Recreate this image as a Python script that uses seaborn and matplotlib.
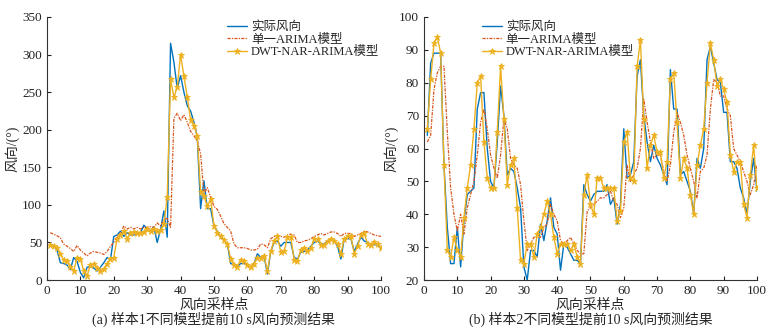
"""Wind direction forecasts, 10 s ahead: two samples, three models."""
import numpy as np
import matplotlib
matplotlib.use("Agg")
import matplotlib.pyplot as plt
import seaborn as sns

x = np.arange(1, 101)

# sample 1
actual_a = [47, 45, 40, 23, 22, 20, 14, 30, 25, 10, 3, 17, 18, 16, 12, 17, 23, 30, 27, 58,
            60, 65, 58, 63, 60, 60, 61, 63, 73, 68, 65, 71, 50, 67, 92, 57, 315, 290, 255, 272,
            250, 232, 225, 210, 190, 95, 132, 95, 95, 72, 65, 57, 53, 48, 22, 20, 18, 22, 22, 20,
            17, 22, 35, 30, 32, 8, 38, 50, 52, 45, 50, 50, 50, 30, 28, 37, 38, 40, 45, 50,
            52, 48, 48, 52, 55, 52, 45, 28, 55, 55, 55, 38, 48, 57, 52, 50, 47, 47, 47, 42]
arima_a = [63, 61, 59, 56, 48, 45, 42, 38, 46, 40, 36, 32, 36, 38, 37, 36, 34, 38, 45, 50,
           58, 62, 72, 68, 70, 68, 70, 68, 70, 70, 71, 70, 76, 72, 80, 82, 70, 215, 222, 212,
           220, 210, 198, 192, 185, 168, 115, 123, 110, 98, 94, 85, 75, 70, 65, 48, 43, 43, 43, 42,
           40, 40, 41, 48, 47, 43, 55, 58, 58, 58, 57, 60, 61, 60, 50, 50, 52, 53, 55, 58,
           60, 62, 60, 62, 64, 64, 62, 58, 62, 62, 62, 58, 60, 62, 65, 64, 62, 60, 59, 58]
dwt_a = [46, 45, 43, 35, 27, 25, 18, 12, 30, 28, 12, 5, 20, 22, 16, 12, 15, 22, 28, 30,
         55, 60, 65, 55, 62, 64, 63, 62, 64, 68, 65, 68, 65, 66, 75, 110, 267, 243, 257, 300,
         271, 244, 213, 205, 192, 117, 112, 98, 108, 72, 63, 58, 53, 48, 28, 20, 18, 27, 25, 20,
         17, 22, 30, 30, 32, 12, 38, 52, 58, 37, 38, 57, 57, 27, 25, 40, 43, 38, 42, 55,
         55, 47, 47, 52, 55, 52, 48, 35, 55, 58, 58, 35, 45, 60, 62, 48, 47, 50, 48, 43]

# sample 2
actual_b = [64, 86, 89, 89, 89, 55, 36, 25, 25, 36, 24, 38, 46, 47, 48, 72, 77, 77, 60, 50,
            48, 62, 79, 70, 52, 54, 53, 48, 42, 24, 20, 29, 29, 27, 37, 32, 38, 45, 36, 34,
            23, 31, 30, 28, 26, 26, 25, 49, 46, 44, 46, 47, 47, 47, 49, 43, 45, 37, 43, 66,
            51, 52, 56, 82, 87, 70, 62, 56, 61, 57, 55, 52, 49, 84, 72, 72, 52, 53, 50, 47,
            40, 57, 54, 60, 87, 91, 86, 81, 80, 71, 71, 56, 56, 54, 48, 45, 40, 50, 57, 47]
arima_b = [62, 64, 78, 83, 85, 85, 65, 48, 40, 35, 40, 34, 42, 46, 50, 58, 68, 72, 66, 58,
           54, 51, 58, 69, 66, 57, 55, 54, 49, 38, 29, 31, 33, 33, 33, 36, 37, 43, 40, 38,
           32, 31, 32, 33, 31, 29, 28, 28, 41, 42, 43, 44, 45, 45, 46, 47, 44, 43, 39, 42,
           55, 50, 52, 54, 60, 75, 68, 62, 57, 58, 58, 53, 50, 55, 65, 71, 68, 64, 58, 54,
           50, 45, 53, 54, 58, 72, 81, 80, 76, 76, 72, 70, 60, 58, 56, 53, 50, 46, 49, 55]
dwt_b = [66, 81, 92, 94, 89, 55, 29, 27, 33, 29, 27, 39, 48, 55, 66, 80, 82, 62, 51, 48,
         48, 65, 85, 69, 49, 55, 57, 42, 26, 25, 31, 31, 27, 34, 36, 40, 44, 40, 33, 28,
         31, 31, 31, 29, 31, 27, 25, 46, 52, 43, 40, 51, 51, 48, 48, 48, 48, 38, 41, 62,
         65, 51, 50, 85, 93, 69, 54, 61, 64, 59, 59, 51, 56, 81, 83, 68, 51, 57, 54, 46,
         40, 55, 61, 66, 80, 92, 87, 79, 81, 78, 74, 58, 53, 56, 56, 43, 39, 52, 61, 48]

series_names = ["实际风向", "单一ARIMA模型", "DWT-NAR-ARIMA模型"]
captions = ["(a) 样本1不同模型提前10 s风向预测结果", "(b) 样本2不同模型提前10 s风向预测结果"]

sns.set_style("ticks")
plt.rcParams["font.family"] = ["Liberation Serif", "Noto Sans CJK SC"]
plt.rcParams["axes.unicode_minus"] = False
plt.rcParams["xtick.direction"] = "in"
plt.rcParams["ytick.direction"] = "in"

fig = plt.figure(figsize=(7.74, 3.33), dpi=100)
ax_a = fig.add_axes([0.0607, 0.159, 0.4315, 0.790])
ax_b = fig.add_axes([0.5478, 0.159, 0.4302, 0.790])

panels = [
    (ax_a, actual_a, arima_a, dwt_a, (0, 350), np.arange(0, 351, 50), 0.54, -0.081),
    (ax_b, actual_b, arima_b, dwt_b, (20, 100), np.arange(20, 101, 10), 0.174, -0.078),
]

for i, (ax, act, ari, dwt, ylim, yticks, leg_x, ylab_x) in enumerate(panels):
    sns.lineplot(x=x, y=act, ax=ax, color="#0072BD", linewidth=1.0, linestyle="-",
                 label=series_names[0])
    sns.lineplot(x=x, y=ari, ax=ax, color="#D95319", linewidth=0.9,
                 linestyle=(0, (2.5, 1, 1, 1)), label=series_names[1])
    sns.lineplot(x=x, y=dwt, ax=ax, color="#EDB120", linewidth=1.0, linestyle="-",
                 marker="*", markersize=4.5, markeredgewidth=0.6,
                 markeredgecolor="#EDB120", label=series_names[2])
    ax.set_xlim(0, 100)
    ax.set_ylim(*ylim)
    ax.set_xticks(np.arange(0, 101, 10))
    ax.set_yticks(yticks)
    ax.tick_params(labelsize=9.5, length=3, width=0.8, colors="#222222")
    for side in ["top", "right"]:
        ax.spines[side].set_visible(False)
    for side in ["left", "bottom"]:
        ax.spines[side].set_linewidth(0.8)
        ax.spines[side].set_color("#333333")
    ax.set_xlabel("风向采样点", fontsize=10, labelpad=1)
    ax.set_ylabel("风向/(°)", fontsize=10)
    ax.yaxis.set_label_coords(ylab_x, 0.5)
    ax.legend(loc="upper left", bbox_to_anchor=(leg_x, 0.985), frameon=False, fontsize=9,
              handlelength=1.6, handletextpad=0.3, labelspacing=0.05,
              borderaxespad=0, borderpad=0)
    ax.text(0.5, -0.122, captions[i], transform=ax.transAxes, ha="center", va="top",
            fontsize=10)

fig.savefig("out.png", dpi=100)
